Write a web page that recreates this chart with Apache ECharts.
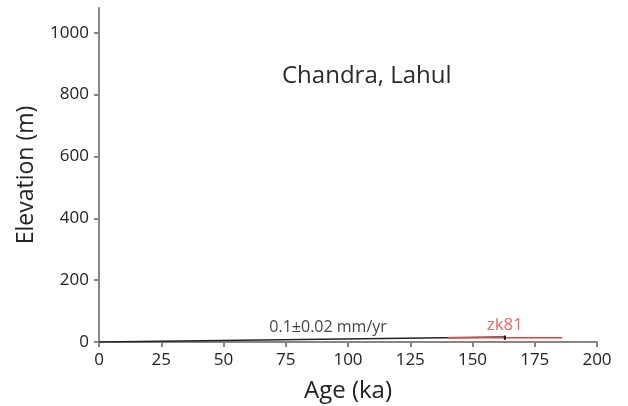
<!DOCTYPE html>
<html>
<head>
<meta charset="utf-8">
<script src="https://cdn.jsdelivr.net/npm/echarts@6/dist/echarts.min.js"></script>
<style>
  html, body { margin: 0; padding: 0; background: #fff; }
  #chart { width: 628px; height: 406px; }
</style>
</head>
<body>
<div id="chart"></div>
<script>
// rate line (black)
const rateAges = [0, 163];
const rateElev = [0, 16];
const rateText = "0.1\u00b10.02 mm/yr";
const rateTextAt = [92, 9];

// sample zk81 (red age bar, black elevation tick)
const sampleName = "zk81";
const sampleAge = 163;
const sampleAgeErr = 23;
const sampleElev = 14;
const sampleElevErr = 7;

const xTicks = [0, 25, 50, 75, 100, 125, 150, 175, 200];
const yTicks = [0, 200, 400, 600, 800, 1000];

const axisColor = "#8a8482";
const font = "'Open Sans', 'Liberation Sans', sans-serif";

let myChart = echarts.init(document.getElementById("chart"));
let option = {
  animation: false,
  title: {
    text: "Chandra, Lahul",
    left: 277,
    top: 59,
    textStyle: { fontFamily: font, fontSize: 24, fontWeight: "normal", color: "#2a2a2a" },
  },
  grid: { left: 99, right: 31, top: 8, bottom: 64, containLabel: false, outerBoundsMode: "none" },
  xAxis: {
    type: "value",
    min: 0,
    max: 200,
    interval: 25,
    name: "Age (ka)",
    nameLocation: "middle",
    nameGap: 37,
    nameTextStyle: { fontFamily: font, fontSize: 24, color: "#222" },
    axisLine: { lineStyle: { color: axisColor, width: 2 } },
    axisTick: { length: 5, customValues: xTicks, lineStyle: { color: axisColor, width: 2 } },
    axisLabel: { fontFamily: font, fontSize: 17, color: "#222", margin: 10, customValues: xTicks },
    splitLine: { show: false },
  },
  yAxis: {
    type: "value",
    min: 0,
    max: 1080,
    name: "Elevation (m)",
    nameLocation: "middle",
    nameGap: 61,
    nameTextStyle: { fontFamily: font, fontSize: 23, color: "#222" },
    axisLine: { show: true, lineStyle: { color: axisColor, width: 2 } },
    axisTick: { show: true, length: 5, customValues: yTicks, lineStyle: { color: axisColor, width: 2 } },
    axisLabel: {
      fontFamily: font, fontSize: 17, color: "#222", margin: 10, customValues: yTicks,
      formatter: (v) => String(v),
    },
    splitLine: { show: false },
  },
  series: [
    {
      name: "rate",
      type: "line",
      data: rateAges.map((a, i) => [a, rateElev[i]]),
      symbol: "none",
      lineStyle: { color: "#222", width: 1.5 },
      z: 3,
    },
    {
      name: "ageErr",
      type: "line",
      data: [
        [sampleAge - sampleAgeErr, sampleElev],
        [sampleAge + sampleAgeErr, sampleElev],
      ],
      symbol: "none",
      lineStyle: { color: "#e0443c", width: 1.5 },
      z: 4,
    },
    {
      name: "elevErr",
      type: "line",
      data: [
        [sampleAge, sampleElev - sampleElevErr],
        [sampleAge, sampleElev + sampleElevErr],
      ],
      symbol: "none",
      lineStyle: { color: "#111", width: 2 },
      z: 5,
    },
    {
      name: "labels",
      type: "scatter",
      symbolSize: 0,
      silent: true,
      data: [
        {
          value: [sampleAge, sampleElev],
          label: { show: true, position: "top", distance: 4, formatter: sampleName,
            fontFamily: font, fontSize: 17, color: "#e0443c" },
        },
        {
          value: rateTextAt,
          label: { show: true, position: "top", distance: 4, formatter: rateText,
            fontFamily: font, fontSize: 16, color: "#111" },
        },
      ],
    },
  ],
};
myChart.setOption(option);
</script>
</body>
</html>
